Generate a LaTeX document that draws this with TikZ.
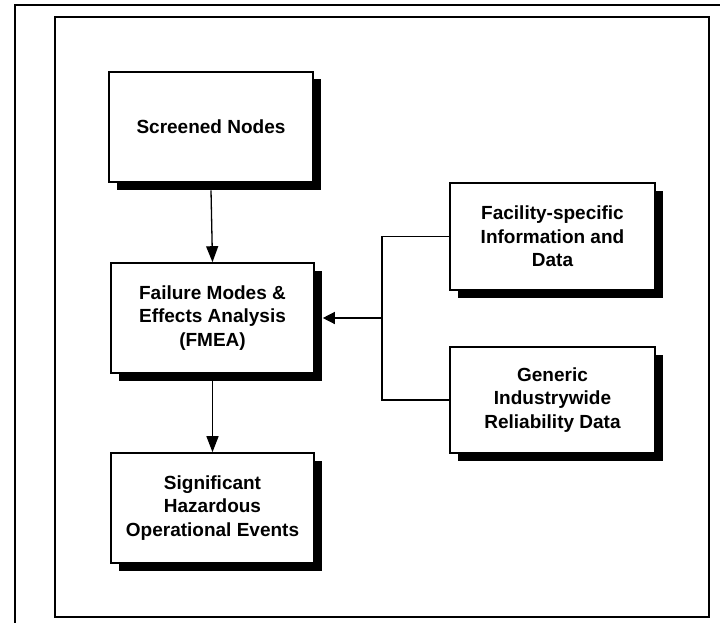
\documentclass[tikz,border=0pt]{standalone}
\usepackage{fontspec}
\setmainfont{Liberation Sans}
\usetikzlibrary{arrows.meta,shadows}
\tikzset{
  procbox/.style={draw=black, line width=1.6pt, fill=white, align=center,
    inner sep=2pt, font=\bfseries\fontsize{19}{23.5}\selectfont,
    drop shadow={shadow xshift=8pt, shadow yshift=-7.5pt, fill=black, opacity=1}},
  link/.style={draw=black, line width=1.3pt},
  flow/.style={link, -{Triangle[length=16pt,width=12pt]}},
  feed/.style={link, -{Triangle[length=12pt,width=12pt]}},
  frame/.style={draw=black, line width=1.6pt}
}
\begin{document}
\begin{tikzpicture}[x=1pt,y=-1pt]
  \useasboundingbox (0,0) rectangle (720,623);

  % page border and figure frame
  \draw[frame] (15,623) -- (15,5) -- (720,5);
  \draw[frame] (55,17) rectangle (709,617);

  % process boxes
  \node[procbox, minimum width=204pt, minimum height=110pt] (screen) at (211,127)
    {Screened Nodes};
  \node[procbox, minimum width=203pt, minimum height=110pt] (fmea) at (212.5,318)
    {Failure Modes \&\\Effects Analysis\\(FMEA)};
  \node[procbox, minimum width=203pt, minimum height=110pt] (events) at (212.5,508)
    {Significant\\Hazardous\\Operational Events};
  \node[procbox, minimum width=205pt, minimum height=107pt] (facility) at (552.5,236.5)
    {Facility-specific\\Information and\\Data};
  \node[procbox, minimum width=205pt, minimum height=106pt] (generic) at (552.5,400)
    {Generic\\Industrywide\\Reliability Data};

  % main flow
  \draw[flow] ([yshift=-7.5pt]screen.south) -- (fmea.north);
  \draw[flow] ([yshift=-7.5pt]fmea.south) -- (events.north);

  % data inputs joined into one feed
  \coordinate (join) at (382,318);
  \draw[link] (facility.west) -| (join) |- (generic.west);
  \draw[feed] (join) -- ([xshift=8pt]fmea.east);
\end{tikzpicture}
\end{document}
